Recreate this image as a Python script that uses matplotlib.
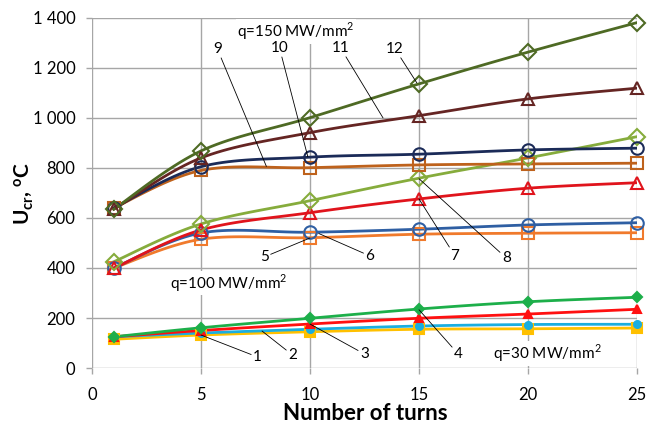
import numpy as np
import matplotlib.pyplot as plt

# データ
turns = [1, 5, 10, 15, 20, 25]

# q=30 MW/mm2
s1 = [115, 132, 145, 155, 157, 160]
s2 = [125, 140, 155, 168, 174, 175]
s3 = [125, 150, 176, 199, 216, 235]
s4 = [125, 161, 199, 236, 265, 283]
# q=100 MW/mm2
s5 = [400, 515, 521, 535, 539, 541]
s6 = [400, 540, 543, 555, 572, 581]
s7 = [399, 552, 621, 676, 719, 741]
s8 = [425, 576, 669, 759, 840, 925]
# q=150 MW/mm2
s9 = [640, 790, 801, 812, 816, 819]
s10 = [640, 805, 843, 855, 872, 879]
s11 = [635, 840, 941, 1009, 1076, 1119]
s12 = [635, 868, 1001, 1136, 1263, 1381]

series = [s1, s2, s3, s4, s5, s6, s7, s8, s9, s10, s11, s12]
colors = ['#FFC000', '#1BAEE0', '#FF1010', '#1DAF4A',
          '#F07A2C', '#2F5FA3', '#E0141C', '#86AC3C',
          '#BE621C', '#1B2B58', '#652523', '#4E6A24']
markers = ['s', 'o', '^', 'D', 's', 'o', '^', 'D', 's', 'o', '^', 'D']
filled = [True] * 4 + [False] * 8
msizes = [7, 5, 6, 5, 9, 9, 9, 8, 9, 9, 9, 8]

# 番号ラベル (テキスト位置, 指す点)
labels = ['1', '2', '3', '4', '5', '6', '7', '8', '9', '10', '11', '12']
label_xy = [(7.6, 44), (9.2, 52), (12.5, 56), (16.8, 56),
            (7.9, 444), (12.75, 448), (16.65, 448), (19.0, 440),
            (5.75, 1276), (8.6, 1280), (11.4, 1280), (13.9, 1276)]
label_pt = [(5.0, 132), (7.8, 148), (10.0, 176), (15.0, 233),
            (10.0, 520), (10.4, 538), (15.0, 676), (15.0, 757),
            (8.0, 806), (9.9, 845), (13.35, 1000), (14.9, 1140)]

q_labels = ['q=150 MW/mm$^2$', 'q=100 MW/mm$^2$', 'q=30 MW/mm$^2$']
q_xy = [(9.36, 1345), (6.28, 340), (20.9, 58)]


# Excel風のスムージング線
def smooth(x, y, n=20):
    x = np.asarray(x, float)
    y = np.asarray(y, float)
    xs, ys = [x[0]], [y[0]]
    for i in range(len(x) - 1):
        i0 = max(i - 1, 0)
        i3 = min(i + 2, len(x) - 1)
        c1x = x[i] + (x[i + 1] - x[i0]) / 6
        c1y = y[i] + (y[i + 1] - y[i0]) / 6
        c2x = x[i + 1] - (x[i3] - x[i]) / 6
        c2y = y[i + 1] - (y[i3] - y[i]) / 6
        t = np.linspace(0, 1, n)[1:]
        xs.extend((1 - t) ** 3 * x[i] + 3 * (1 - t) ** 2 * t * c1x + 3 * (1 - t) * t ** 2 * c2x + t ** 3 * x[i + 1])
        ys.extend((1 - t) ** 3 * y[i] + 3 * (1 - t) ** 2 * t * c1y + 3 * (1 - t) * t ** 2 * c2y + t ** 3 * y[i + 1])
    return xs, ys


plt.rcParams['font.family'] = ['Lato', 'DejaVu Sans']
plt.rcParams['mathtext.fontset'] = 'custom'
plt.rcParams['mathtext.rm'] = 'Lato'
plt.rcParams['mathtext.bf'] = 'Lato:bold'

fig = plt.figure(figsize=(6.57, 4.25), dpi=100)
ax = fig.add_axes([0.140, 0.134, 0.8296, 0.824])

for y, c, m, f, ms in zip(series, colors, markers, filled, msizes):
    sx, sy = smooth(turns, y)
    ax.plot(sx, sy, color=c, lw=2.0, zorder=3)
    ax.plot(turns, y, linestyle='None', marker=m, markersize=ms,
            markeredgecolor=c, markerfacecolor=c if f else 'none',
            markeredgewidth=1.5, zorder=4, clip_on=False)

for t, xy, pt in zip(labels, label_xy, label_pt):
    ax.annotate(t, xy=pt, xytext=xy, ha='center', va='center', fontsize=11,
                bbox=dict(boxstyle='square,pad=0.05', fc='white', ec='none'),
                arrowprops=dict(arrowstyle='-', color='black', lw=0.6,
                                shrinkA=1, shrinkB=0), zorder=5)

for t, xy in zip(q_labels, q_xy):
    ax.text(xy[0], xy[1], t, ha='center', va='center', fontsize=11,
            bbox=dict(boxstyle='square,pad=0.1', fc='white', ec='none'), zorder=2)

ax.set_xlim(0, 25)
ax.set_ylim(0, 1400)
ax.set_xticks(np.arange(0, 26, 5))
ax.set_yticks(np.arange(0, 1401, 200))
ax.set_yticklabels([f"{v:,}".replace(",", " ") for v in range(0, 1401, 200)])
ax.grid(True, color='#A6A6A6', lw=1.0, zorder=0)
ax.set_axisbelow(True)
for sp in ax.spines.values():
    sp.set_visible(False)
ax.tick_params(axis='both', colors='#A6A6A6', length=4, width=1.0,
               labelcolor='black', labelsize=12)
ax.tick_params(axis='x', pad=10)
ax.tick_params(axis='y', pad=8)

# 軸ラベル
fig.text(365 / 657, 1 - 420 / 425, 'Number of turns', ha='center', va='baseline',
         fontsize=16, fontweight='bold')
fig.text(24 / 657, 1 - 193 / 425, r'$\mathbf{U_{cr}}$, $\mathbf{^{o}C}$',
         ha='center', va='center', rotation=90, fontsize=15, fontweight='bold')

fig.savefig('out.png', dpi=100)
